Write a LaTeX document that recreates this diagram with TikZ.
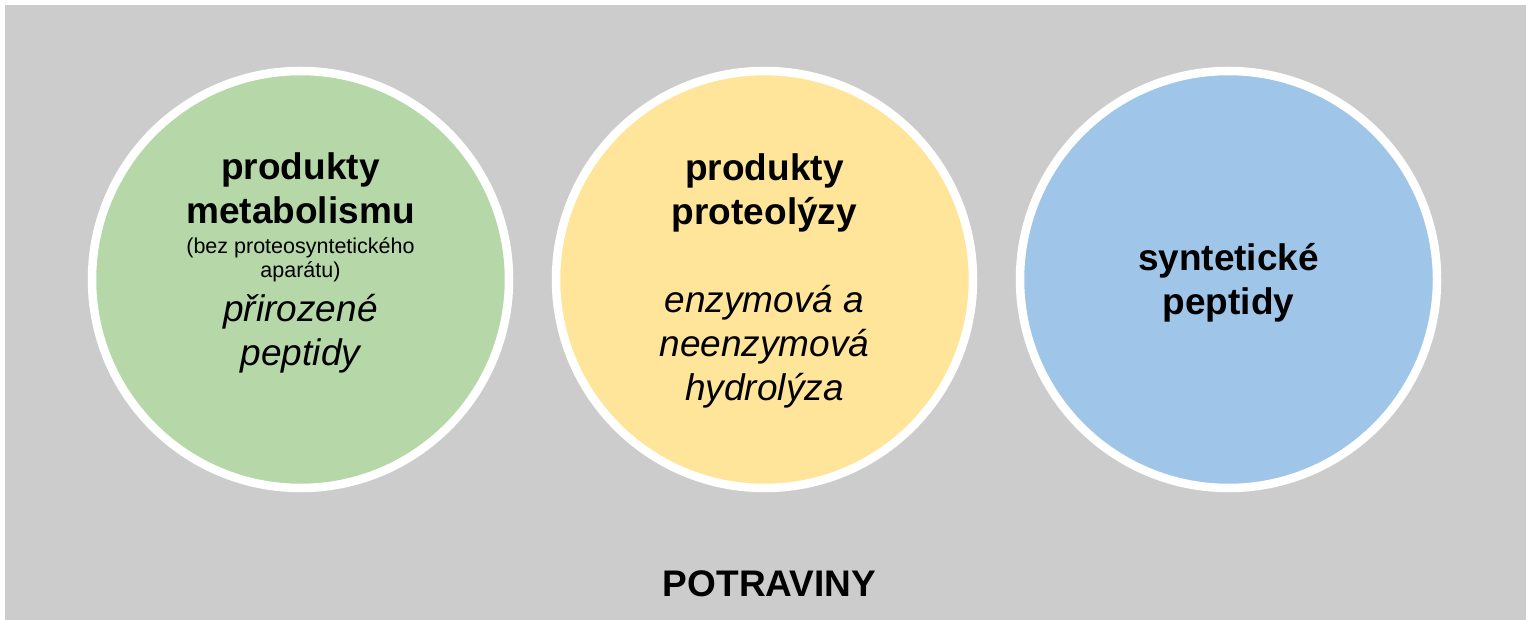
\documentclass[tikz,border=0pt]{standalone}
\usepackage{fontspec}
\setmainfont{Liberation Sans}
\definecolor{bggray}{HTML}{CCCCCC}
\definecolor{cgreen}{HTML}{B6D7A8}
\definecolor{cyellow}{HTML}{FFE599}
\definecolor{cblue}{HTML}{9FC5E8}
\tikzset{
  disc/.style={circle, draw=white, line width=8.5pt, inner sep=0pt, outer sep=0pt, minimum size=417pt},
  txt/.style={anchor=base, inner sep=0pt, outer sep=0pt, text=black},
}
\newcommand{\bigf}{\fontsize{37}{44}\selectfont}
\newcommand{\smallf}{\fontsize{21.5}{24}\selectfont}
\begin{document}
\begin{tikzpicture}[x=1pt,y=-1pt]
\useasboundingbox (0,0) rectangle (1526,620);
\fill[white] (0,0) rectangle (1526,620);
\fill[bggray] (5,5) rectangle (1526,620);
\node[disc, fill=cgreen] (c1) at (300.5,279.5) {};
\node[disc, fill=cyellow] (c2) at (764.5,279.5) {};
\node[disc, fill=cblue] (c3) at (1228.5,279.5) {};
\node[txt] (t1) at (300.5,180) {\parbox[t]{400pt}{\centering
  {\bigf\bfseries produkty\\metabolismu\par}
  \vspace{5.5pt}
  {\smallf (bez proteosyntetického\\aparátu)\par}
  {\bigf\itshape přirozené\\peptidy\par}}};
\node[txt] (t2) at (764.5,181) {\parbox[t]{400pt}{\centering
  {\bigf\bfseries produkty\\proteolýzy\par}
  {\bigf\mbox{}\par}
  {\bigf\itshape enzymová a\\neenzymová\\hydrolýza\par}}};
\node[txt] (t3) at (1228.5,270.5) {\parbox[t]{400pt}{\centering
  {\bigf\bfseries syntetické\\peptidy\par}}};
\node[txt, font=\bigf\bfseries] (pot) at (769.5,596) {POTRAVINY};
\end{tikzpicture}
\end{document}
